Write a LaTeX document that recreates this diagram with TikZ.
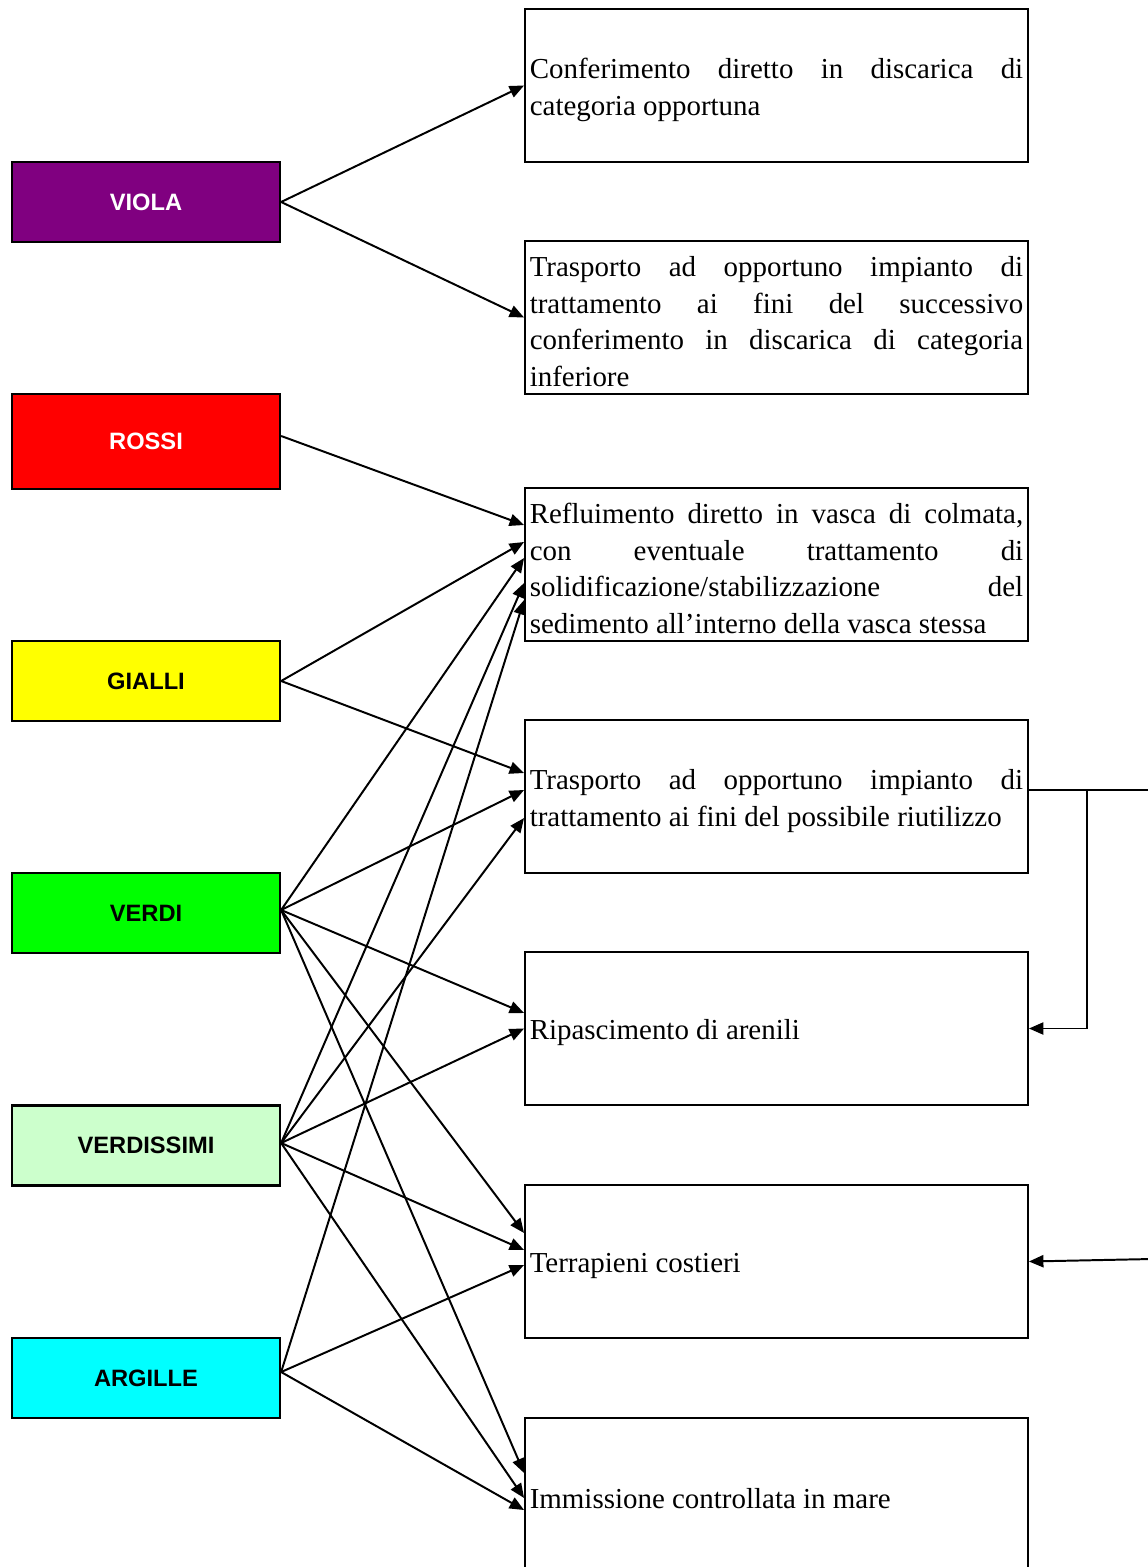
\documentclass[tikz,border=0pt]{standalone}
\usepackage{fontspec}
\setmainfont{Liberation Serif}
\setsansfont{Liberation Sans}
\usetikzlibrary{arrows.meta, calc}
\definecolor{viola-fill}{HTML}{800080}
\definecolor{rossi-fill}{HTML}{FF0000}
\definecolor{gialli-fill}{HTML}{FFFF00}
\definecolor{verdi-fill}{HTML}{00FF00}
\definecolor{verdissimi-fill}{HTML}{CCFFCC}
\definecolor{argille-fill}{HTML}{00FFFF}
\tolerance=9999
\hyphenpenalty=10000
\tikzset{
  classe/.style={
    draw=black, line width=0.9pt, minimum width=101.8pt, minimum height=30.4pt,
    font=\sffamily\bfseries\fontsize{9}{11}\selectfont
  },
  dest/.style={
    draw=black, line width=0.75pt, minimum height=58.1pt, inner xsep=1.8pt,
    inner ysep=0pt, text width=187.5pt, align=justify,
    font=\fontsize{11}{14}\selectfont,
    execute at begin node={\rule{0pt}{10.8pt}}
  },
  freccia/.style={-{Triangle[length=5.5pt, width=4.6pt]}, line width=0.75pt},
  linea/.style={line width=0.75pt}
}

\begin{document}
\begin{tikzpicture}[x=0.38pt, y=-0.38pt]
  \useasboundingbox (0,0) rectangle (1147,1567);

  % ---- Classes (left column) -----------------------------------------------
  \node[classe, fill=viola-fill, text=white]      (viola)      at (146, 202)    {VIOLA};
  \node[classe, fill=rossi-fill, text=white, minimum height=36.1pt]
                                                  (rossi)      at (146, 441.5)  {ROSSI};
  \node[classe, fill=gialli-fill]                 (gialli)     at (146, 681)    {GIALLI};
  \node[classe, fill=verdi-fill]                  (verdi)      at (146, 913)    {VERDI};
  \node[classe, fill=verdissimi-fill]             (verdissimi) at (146, 1145.5) {VERDISSIMI};
  \node[classe, fill=argille-fill]                (argille)    at (146, 1378)   {ARGILLE};

  % ---- Destinations (right column) ----------------------------------------
  \node[dest] (discarica)   at (776.5, 85.5)
        {Conferimento diretto in discarica di\linebreak categoria opportuna};
  \node[dest] (trattamento) at (776.5, 317.5)
        {Trasporto ad opportuno impianto di\linebreak trattamento ai fini del successivo\linebreak
         conferimento in discarica di categoria\linebreak inferiore};
  \node[dest] (colmata)     at (776.5, 564.5)
        {Refluimento diretto in vasca di colmata,\linebreak con eventuale trattamento di\linebreak
         solidificazione/stabilizzazione del\linebreak sedimento all’interno della vasca stessa};
  \node[dest] (riutilizzo)  at (776.5, 796.5)
        {Trasporto ad opportuno impianto di\linebreak trattamento ai fini del possibile riutilizzo};
  \node[dest] (arenili)     at (776.5, 1028.5) {Ripascimento di arenili};
  \node[dest] (terrapieni)  at (776.5, 1261.5) {Terrapieni costieri};
  \node[dest] (mare)        at (776.5, 1494.5) {Immissione controllata in mare};

  % ---- Class -> destination arrows -----------------------------------------
  \draw[freccia] (viola.east) -- (discarica.west);
  \draw[freccia] (viola.east) -- (trattamento.west);

  \draw[freccia] ($(rossi.east)+(0,-5.5)$) -- ($(colmata.west)+(0,-39.5)$);

  \draw[freccia] (gialli.east) -- ($(colmata.west)+(0,-22.5)$);
  \draw[freccia] (gialli.east) -- ($(riutilizzo.west)+(0,-23.5)$);

  \draw[freccia] ($(verdi.east)+(0,-3)$) -- ($(colmata.west)+(0,-6.5)$);
  \draw[freccia] ($(verdi.east)+(0,-3)$) -- ($(riutilizzo.west)+(0,-6.5)$);
  \draw[freccia] ($(verdi.east)+(0,-3)$) -- ($(arenili.west)+(0,-15.5)$);
  \draw[freccia] ($(verdi.east)+(0,-3)$) -- ($(terrapieni.west)+(0,-28.5)$);
  \draw[freccia] ($(verdi.east)+(0,-3)$) -- ($(mare.west)+(0,-21.5)$);

  \draw[freccia] ($(verdissimi.east)+(0,-2.5)$) -- ($(colmata.west)+(0,18.5)$);
  \draw[freccia] ($(verdissimi.east)+(0,-2.5)$) -- ($(riutilizzo.west)+(0,21.5)$);
  \draw[freccia] ($(verdissimi.east)+(0,-2.5)$) -- (arenili.west);
  \draw[freccia] ($(verdissimi.east)+(0,-2.5)$) -- ($(terrapieni.west)+(0,-11.5)$);
  \draw[freccia] ($(verdissimi.east)+(0,-2.5)$) -- ($(mare.west)+(0,3.5)$);

  \draw[freccia] ($(argille.east)+(0,-6)$) -- ($(colmata.west)+(0,35.5)$);
  \draw[freccia] ($(argille.east)+(0,-6)$) -- ($(terrapieni.west)+(0,3.5)$);
  \draw[freccia] ($(argille.east)+(0,-6)$) -- ($(mare.west)+(0,15.5)$);

  % ---- Links on the right margin -------------------------------------------
  \coordinate (uscita)   at (1152, 790);
  \coordinate (ramo)     at (1087, 790);
  \coordinate (ingresso) at (1152, 1259);
  \draw[linea] ($(riutilizzo.east)+(0,-6.5)$) -- (uscita);
  \draw[freccia] (ramo) |- (arenili.east);
  \draw[freccia] (ingresso) -- (terrapieni.east);

\end{tikzpicture}
\end{document}
